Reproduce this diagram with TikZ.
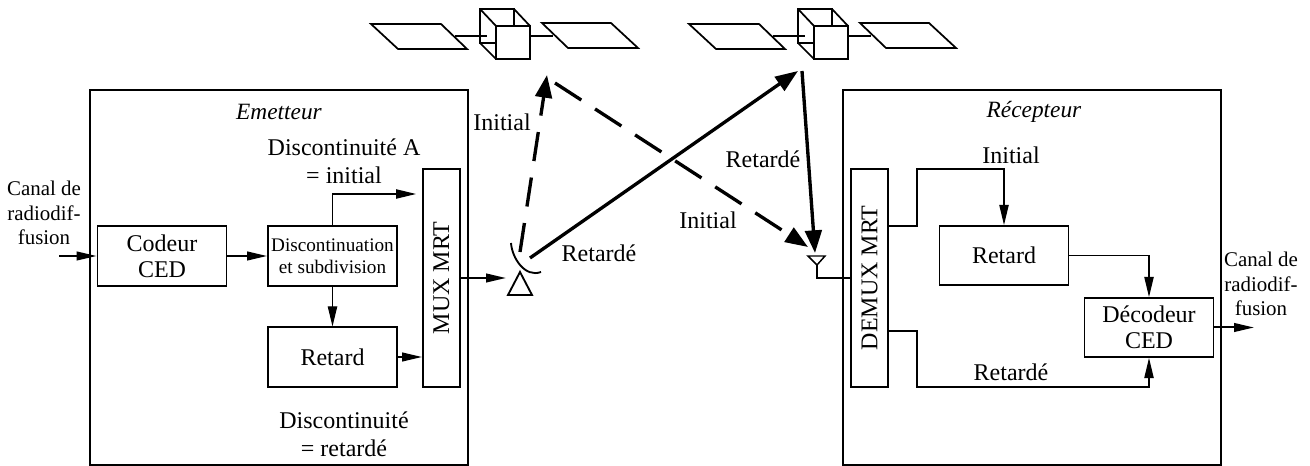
\documentclass[tikz,border=0pt]{standalone}
\usepackage{fontspec}
\setmainfont{Liberation Serif}
\usetikzlibrary{arrows.meta}
\tikzset{
  blockbox/.style={draw, line width=1.3pt, inner sep=0pt, align=center, minimum width=96.75pt, minimum height=44.5pt, font=\fontsize{18}{19.5}\selectfont},
  muxbox/.style={blockbox, rotate=90, minimum width=163.5pt, minimum height=27.75pt},
  label/.style={inner sep=0pt, align=center, font=\fontsize{18}{21}\selectfont},
  namelabel/.style={label, font=\fontsize{17.5}{21}\selectfont\itshape},
  smalllabel/.style={inner sep=0pt, align=center, font=\fontsize{15.7}{18.4}\selectfont},
  wire/.style={line width=0.8pt},
  wirearrow/.style={wire, -{Stealth[length=15pt,width=7pt,inset=0pt]}},
  feed/.style={line width=1.5pt, -{Stealth[length=15pt,width=6.5pt,inset=0pt]}},
  link/.style={line width=2.5pt, -{Stealth[length=17pt,width=12.5pt,inset=0pt]}},
  linkdash/.style={link, dash pattern=on 22pt off 12.5pt},
  frame/.style={draw, line width=1.3pt, inner sep=0pt, minimum width=283.5pt, minimum height=281.25pt}
}
\begin{document}
\begin{tikzpicture}[x=0.75pt,y=-0.75pt]
  \useasboundingbox (0,0) rectangle (1310,466);

  % satellites
  \foreach \dx in {0,318} {
    \begin{scope}[xshift=\dx*0.75pt, line width=1.3pt]
      \draw (371,24) -- (441,24) -- (467,49) -- (398,49) -- cycle;
      \draw (542,23) -- (611,23) -- (638,48) -- (568,48) -- cycle;
      \draw (480,9) rectangle (514,43);
      \draw (480,9) -- (496,26) (514,9) -- (530,26) (480,43) -- (496,59);
      \draw[fill=white] (496,26) rectangle (530,59);
      \draw[line width=2.2pt] (455,36) -- (487,36) (530,36) -- (553,36);
    \end{scope}
  }

  % emetteur
  \node[frame] (tx) at (279,277.5) {};
  \node[namelabel] (txname) at (279,112) {Emetteur};
  \node[label] (txa) at (344,161.5) {Discontinuité A\\= initial};
  \node[label] (txb) at (344,434) {Discontinuité\\= retardé};
  \node[blockbox] (coder) at (162,256) {Codeur\\CED};
  \node[blockbox, font=\fontsize{14.4}{16.5}\selectfont] (split) at (332.5,256) {Discontinuation\\et subdivision};
  \node[blockbox] (delay) at (332.5,357) {Retard};
  \node[muxbox] (mux) at (441.5,278) {MUX MRT};

  % recepteur
  \node[frame] (rx) at (1032,277.5) {};
  \node[namelabel] (rxname) at (1034,112) {Récepteur};
  \node[muxbox] (demux) at (869.5,278) {DEMUX MRT};
  \node[blockbox] (rxdelay) at (1004,255.5) {Retard};
  \node[blockbox] (decoder) at (1149,327.5) {Décodeur\\CED};
  \node[label] (rxa) at (1011,155) {Initial};
  \node[label] (rxb) at (1011,372) {Retardé};

  % libelles des liaisons
  \node[label] (up1) at (502,122) {Initial};
  \node[label] (up2) at (599,253) {Retardé};
  \node[label] (down1) at (708,220) {Initial};
  \node[label] (down2) at (763,159) {Retardé};
  \node[smalllabel] (inname) at (44,213) {Canal de\\radiodif-\\fusion};
  \node[smalllabel] (outname) at (1261,284) {Canal de\\radiodif-\\fusion};

  % points libres
  \coordinate (in) at (59,256);
  \coordinate (out) at (1254,327.5);
  \coordinate (dishin) at (506,278);
  \coordinate (muxtop) at (416,194);
  \coordinate (rxant) at (817,265);
  \coordinate (upa) at (520,252);
  \coordinate (upb) at (547,75);
  \coordinate (upc) at (530,258);
  \coordinate (upd) at (798,71);
  \coordinate (downa) at (555,83);
  \coordinate (downb) at (808,247);
  \coordinate (downc) at (802,71);
  \coordinate (downd) at (815,253);
  \coordinate (bendt) at (917,226);
  \coordinate (bendb) at (917,331);
  \coordinate (rxtop) at (917,169);
  \coordinate (rxbot) at (917,387);

  % antennes
  \draw[line width=1.4pt] (511,243) .. controls (512,258) and (525,278) .. (541,272);
  \draw[line width=1.4pt] (520,272) -- (532,295) -- (508,295) -- cycle;
  \draw[line width=1.1pt] (808,256) -- (825,256) -- (817,265) -- cycle;

  % emetteur, liaisons
  \draw[feed] (in) -- (coder.west);
  \draw[feed] (coder.east) -- (split.west);
  \draw[wirearrow] (split.north) |- (muxtop);
  \draw[wirearrow] (split.south) -- (delay.north);
  \draw[feed] (delay.east) -- (mux.north |- delay.east);
  \draw[feed] (mux.south) -- (dishin);

  % recepteur, liaisons
  \draw[wire] (rxant) |- (demux.north);
  \draw[wirearrow] (demux.south |- bendt) -- (bendt) -- (rxtop) -| (rxdelay.north);
  \draw[wirearrow] (rxdelay.east) -| (decoder.north);
  \draw[wirearrow] (demux.south |- bendb) -- (bendb) -- (rxbot) -| (decoder.south);
  \draw[feed] (decoder.east) -- (out);

  % faisceaux
  \draw[linkdash] (upa) -- (upb);
  \draw[link] (upc) -- (upd);
  \draw[linkdash, dash pattern=on 23.5pt off 12.3pt] (downa) -- (downb);
  \draw[link] (downc) -- (downd);
\end{tikzpicture}
\end{document}
